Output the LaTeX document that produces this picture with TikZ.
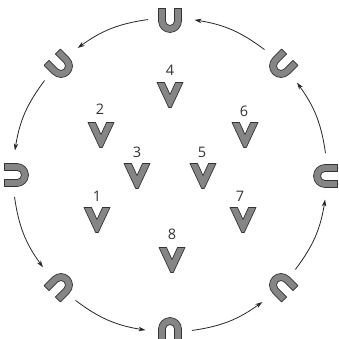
\documentclass[tikz,border=0pt]{standalone}
\usepackage{fontspec}
\setmainfont{Open Sans}
\usepackage{tikz}
\usetikzlibrary{arrows.meta, positioning}

\begin{document}
\begin{tikzpicture}[x=1pt, y=1pt,
    magnet/.style={fill=black!48, draw=black!80, line width=0.7pt, line join=round},
    num/.style={font=\fontsize{14.5}{16}\selectfont, text=black!80, inner sep=0pt},
    flow/.style={-{Stealth[length=7pt, width=4.5pt]}, line width=0.8pt, black!85},
    umark/.pic={
      \path[magnet] (-11.5,12.5) -- (-11.5,0) arc[start angle=180, end angle=360, radius=11.5]
        -- (11.5,12.5) -- (4.5,12.5) -- (4.5,0) arc[start angle=0, end angle=-180, radius=4.5]
        -- (-4.5,12.5) -- cycle;
    },
    vmark/.pic={
      \path[magnet] (-13,12.5) -- (-5.5,12.5) -- (0,0.5) -- (5.5,12.5) -- (13,12.5)
        -- (1.3,-12.5) -- (-1.3,-12.5) -- cycle;
    }]
    \useasboundingbox (-170,-164) rectangle (168,175);

    % magnets round the ring
    \pic (ut)  at (0,154)     {umark};
    \pic[rotate=45]  (utl) at (-109,109) {umark};
    \pic[rotate=90]  (ul)  at (-153,0)   {umark};
    \pic[rotate=135] (ubl) at (-109,-110) {umark};
    \pic[rotate=180] (ub)  at (0,-154)   {umark};
    \pic[rotate=225] (ubr) at (111,-110) {umark};
    \pic[rotate=270] (ur)  at (155,-1)   {umark};
    \pic[rotate=315] (utr) at (111,109)  {umark};

    % arc ends
    \coordinate (s1) at (98:157);  \coordinate (e1) at (126:157);
    \coordinate (s2) at (143:157); \coordinate (e2) at (171:157);
    \coordinate (s3) at (188:157); \coordinate (e3) at (216:157);
    \coordinate (s4) at (233:157); \coordinate (e4) at (261:157);
    \coordinate (s5) at (278:157); \coordinate (e5) at (306:157);
    \coordinate (s6) at (323:157); \coordinate (e6) at (351:157);
    \coordinate (s7) at (8:157);   \coordinate (e7) at (36:157);
    \coordinate (s8) at (53:157);  \coordinate (e8) at (81:157);

    \draw[flow] (s1) to[bend right=14] (e1);
    \draw[flow] (s2) to[bend right=14] (e2);
    \draw[flow] (s3) to[bend right=14] (e3);
    \draw[flow] (s4) to[bend right=14] (e4);
    \draw[flow] (s5) to[bend right=14] (e5);
    \draw[flow] (s6) to[bend right=14] (e6);
    \draw[flow] (s7) to[bend right=14] (e7);
    \draw[flow] (s8) to[bend right=14] (e8);

    % inner marks
    \pic (v1) at (-73,-45) {vmark};
    \pic (v2) at (-69,40)  {vmark};
    \pic (v3) at (-33,-1)  {vmark};
    \pic (v4) at (0,80)    {vmark};
    \pic (v5) at (33,-1)   {vmark};
    \pic (v6) at (75,40)   {vmark};
    \pic (v7) at (73,-45)  {vmark};
    \pic (v8) at (2,-85)   {vmark};

    \node[num] (n1) at (-73,-21) {1};
    \node[num] (n2) at (-70,66)  {2};
    \node[num] (n3) at (-33,23)  {3};
    \node[num] (n4) at (0,104.5) {4};
    \node[num] (n5) at (32,23)   {5};
    \node[num] (n6) at (74,64)   {6};
    \node[num] (n7) at (70,-21)  {7};
    \node[num] (n8) at (2,-59)   {8};
\end{tikzpicture}
\end{document}
